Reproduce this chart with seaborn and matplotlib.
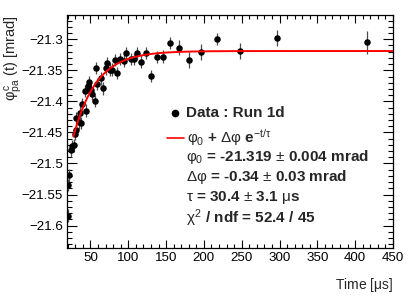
import pandas as pd
import seaborn as sns
import matplotlib.pyplot as plt
import numpy as np
from matplotlib.ticker import FixedLocator, MultipleLocator
from matplotlib.lines import Line2D

# data
time_us = [20, 21, 22, 24, 26, 28, 29, 30.5, 31.5, 35.5, 36, 38, 39, 42.5, 44.5,
           46.5, 48.5, 50.5, 52.5, 55.5, 57.5, 59, 64, 67, 70, 72.5, 75.5, 79,
           82, 85.5, 89.5, 94, 97.5, 104, 107.5, 111.5, 117, 123, 130.5, 138,
           146, 155.5, 166.5, 180, 196, 217, 248, 297, 415]
phi_pa = [-21.584, -21.535, -21.519, -21.479, -21.472, -21.471, -21.452, -21.446,
          -21.427, -21.434, -21.418, -21.435, -21.404, -21.383, -21.415, -21.376,
          -21.369, -21.382, -21.388, -21.399, -21.346, -21.372, -21.363, -21.379,
          -21.347, -21.338, -21.349, -21.349, -21.333, -21.354, -21.332, -21.335,
          -21.322, -21.332, -21.332, -21.322, -21.336, -21.322, -21.359, -21.329,
          -21.328, -21.306, -21.314, -21.333, -21.320, -21.300, -21.319, -21.298,
          -21.305]
phi_err = [0.010, 0.010, 0.010, 0.010, 0.010, 0.010, 0.010, 0.010, 0.010, 0.010,
           0.010, 0.010, 0.010, 0.010, 0.010, 0.010, 0.010, 0.010, 0.010, 0.010,
           0.010, 0.010, 0.010, 0.010, 0.010, 0.010, 0.010, 0.010, 0.010, 0.010,
           0.010, 0.010, 0.010, 0.010, 0.010, 0.010, 0.010, 0.010, 0.010, 0.010,
           0.010, 0.010, 0.012, 0.013, 0.013, 0.010, 0.013, 0.013, 0.019]

# fit result
phi0, dphi, tau = -21.319, -0.34, 30.4
fit_range = (27.5, 450)

y_ticks = [-21.6, -21.55, -21.5, -21.45, -21.4, -21.35, -21.3]
y_labels = ["\u221221.6", "\u221221.55", "\u221221.5", "\u221221.45",
            "\u221221.4", "\u221221.35", "\u221221.3"]
x_ticks = [50, 100, 150, 200, 250, 300, 350, 400, 450]

legend_lines = [
    r"$\varphi_0$ = -21.319 $\pm$ 0.004 mrad",
    r"$\Delta\varphi$ = -0.34 $\pm$ 0.03 mrad",
    r"$\tau$ = 30.4 $\pm$ 3.1 $\mu$s",
    r"$\chi^2$ / ndf = 52.4 / 45",
]

sns.set_theme(style="ticks")
plt.rcParams['font.family'] = ['Liberation Sans', 'DejaVu Sans']
plt.rcParams['mathtext.fontset'] = 'custom'
plt.rcParams['mathtext.rm'] = 'Liberation Sans'
plt.rcParams['mathtext.it'] = 'Liberation Sans'
plt.rcParams['mathtext.bf'] = 'Liberation Sans:bold'

df = pd.DataFrame({"t": time_us, "phi": phi_pa, "err": phi_err})
t_fit = np.linspace(fit_range[0], fit_range[1], 400)
fit_df = pd.DataFrame({"t": t_fit, "phi": phi0 + dphi * np.exp(-t_fit / tau)})

fig = plt.figure(figsize=(4.15, 2.98), dpi=100)
ax = fig.add_axes([0.1614, 0.1678, 0.7856, 0.7819])

ax.errorbar(df["t"], df["phi"], yerr=df["err"], fmt="none", ecolor="0.3",
            elinewidth=0.9, capsize=0, zorder=2)
sns.scatterplot(data=df, x="t", y="phi", color="black", s=22, linewidth=0,
                ax=ax, zorder=3)
sns.lineplot(data=fit_df, x="t", y="phi", color="red", linewidth=1.4, ax=ax,
             zorder=4)

ax.set_xlim(19, 450)
ax.set_ylim(-21.636, -21.261)
ax.xaxis.set_major_locator(FixedLocator(x_ticks))
ax.xaxis.set_minor_locator(MultipleLocator(10))
ax.yaxis.set_major_locator(FixedLocator(y_ticks))
ax.set_yticklabels(y_labels)
ax.yaxis.set_minor_locator(MultipleLocator(0.01))

ax.tick_params(axis="both", which="both", direction="in", top=True, right=True,
               labelsize=9.6, pad=3, color="black", labelcolor="black")
ax.tick_params(axis="y", which="major", length=7, width=0.8)
ax.tick_params(axis="y", which="minor", length=3.5, width=0.8)
ax.tick_params(axis="x", which="major", length=5.5, width=0.8)
ax.tick_params(axis="x", which="minor", length=2.8, width=0.8)
for sp in ax.spines.values():
    sp.set_color("black")
    sp.set_linewidth(0.9)

ax.set_xlabel(r"Time [$\mu$s]", fontsize=10, loc="right")
ax.xaxis.set_label_coords(1.0, -0.12)
ax.set_ylabel(r"$\varphi^{c}_{pa}$ (t) [mrad]", fontsize=10.5, loc="top")
ax.yaxis.set_label_coords(-0.133, 1.0)

# legend, ROOT style
def fx(px):
    return px / 415

def fy(py):
    return 1 - py / 298

fig.add_artist(Line2D([fx(175)], [fy(113)], marker="o", color="black",
                      markersize=4.5, linestyle="none"))
fig.text(fx(186), fy(113), "Data : Run 1d", fontsize=11, fontweight="bold",
         va="center", ha="left")
fig.add_artist(Line2D([fx(167), fx(184)], [fy(138), fy(138)], color="red",
                      linewidth=1.2))
fig.text(fx(187), fy(138), r"$\varphi_0$ + $\Delta\varphi$ $\mathbf{e}^{-t/\tau}$",
         fontsize=11, fontweight="bold", va="center", ha="left")
for i, line in enumerate(legend_lines):
    fig.text(fx(186), fy(157 + 20.3 * i), line, fontsize=11, fontweight="bold",
             va="center", ha="left")

fig.savefig("out.png", dpi=100)
